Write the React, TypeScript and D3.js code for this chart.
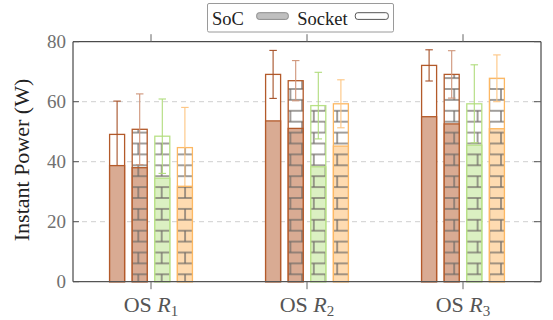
import React from "react";
import * as d3 from "d3";

// ---- data ----
const categories = ["1", "2", "3"]; // OS R_i
const seriesKeys = ["s1", "s2", "s3", "s4"];

const socket1 = [49.1, 69.1, 72.1];
const soc1 = [38.7, 53.6, 55.0];
const err1 = [11.1, 8.0, 5.2];

const socket2 = [50.8, 67.0, 69.1];
const soc2 = [38.0, 51.1, 52.6];
const err2 = [11.8, 6.7, 7.9];

const socket3 = [48.5, 58.7, 59.3];
const soc3 = [34.5, 38.3, 45.5];
const err3 = [12.4, 11.1, 13.0];

const socket4 = [44.7, 59.3, 67.8];
const soc4 = [31.8, 45.2, 51.0];
const err4 = [13.4, 8.0, 7.8];

const yTicks = [0, 20, 40, 60, 80];
const legendLabels = ["SoC", "Socket"];

// ---- styles ----
const seriesStyle = [
  { stroke: "#b35a2a", fill: "#d9ab93", err: "#a65128", pattern: false },
  { stroke: "#b35a2a", fill: "#d9ab93", err: "#cf9579", pattern: true },
  { stroke: "#b8e186", fill: "#dbf0c2", err: "#b0dc7c", pattern: true },
  { stroke: "#fdb863", fill: "#fedbb1", err: "#fdc582", pattern: true },
];

const W = 553;
const H = 320;
const left = 73;
const right = 541;
const top = 41.7;
const bottom = 281.7;
const tf = { fontFamily: "Liberation Serif" };

export default function App() {
  const series = [
    { socket: socket1, soc: soc1, err: err1 },
    { socket: socket2, soc: soc2, err: err2 },
    { socket: socket3, soc: soc3, err: err3 },
    { socket: socket4, soc: soc4, err: err4 },
  ];
  const x0 = d3.scaleBand<string>().domain(categories).range([left, right]).padding(0);
  const x1 = d3.scaleBand<string>().domain(seriesKeys).range([-45.2, 45.2]).padding(0);
  const y = d3.scaleLinear().domain([0, 80]).range([bottom, top]);
  const barW = 15;
  const capW = 7.5;

  const rowH = 10.9;
  const tileW = 23.4;

  return (
    <svg
      width={W}
      height={H}
      style={{ position: "absolute", left: 0, top: 0, background: "#fff" }}
    >
      <defs>
        <pattern
          id="bricks"
          patternUnits="userSpaceOnUse"
          width={tileW}
          height={rowH * 2}
          patternTransform={`translate(9.6, 1.8)`}
        >
          <g stroke="#6f6a66" strokeWidth={1.3} fill="none">
            <line x1={0} y1={0} x2={tileW} y2={0} />
            <line x1={0} y1={rowH} x2={tileW} y2={rowH} />
            <line x1={0} y1={rowH * 2} x2={tileW} y2={rowH * 2} />
            <line x1={0} y1={0} x2={0} y2={rowH} />
            <line x1={tileW} y1={0} x2={tileW} y2={rowH} />
            <line x1={tileW / 2} y1={rowH} x2={tileW / 2} y2={rowH * 2} />
          </g>
        </pattern>
      </defs>

      {/* grid */}
      {yTicks
        .filter((t) => t > 0 && t < 80)
        .map((t) => (
          <line
            key={"g" + t}
            x1={left}
            x2={right}
            y1={y(t)}
            y2={y(t)}
            stroke="#cfcfcf"
            strokeWidth={1}
            strokeDasharray="5,4"
          />
        ))}

      {/* bars */}
      {categories.map((c, ci) => {
        const gx = (x0(c) as number) + x0.bandwidth() / 2;
        return (
          <g key={"grp" + c}>
            {series.map((s, si) => {
              const st = seriesStyle[si];
              const cx = gx + (x1(seriesKeys[si]) as number) + x1.bandwidth() / 2;
              const xl = cx - barW / 2;
              const sockTop = y(s.socket[ci]);
              const socTop = y(s.soc[ci]);
              const eHi = y(s.socket[ci] + s.err[ci]);
              const eLo = y(s.socket[ci] - s.err[ci]);
              return (
                <g key={"b" + si}>
                  <rect x={xl} y={sockTop} width={barW} height={bottom - sockTop} fill="#fff" />
                  {st.pattern && (
                    <rect x={xl} y={sockTop} width={barW} height={bottom - sockTop} fill="url(#bricks)" />
                  )}
                  <rect
                    x={xl}
                    y={sockTop}
                    width={barW}
                    height={bottom - sockTop}
                    fill="none"
                    stroke={st.stroke}
                    strokeWidth={1.3}
                  />
                  <g stroke={st.err} strokeWidth={1.1}>
                    <line x1={cx} x2={cx} y1={eHi} y2={eLo} />
                    <line x1={cx - capW / 2} x2={cx + capW / 2} y1={eHi} y2={eHi} />
                    <line x1={cx - capW / 2} x2={cx + capW / 2} y1={eLo} y2={eLo} />
                  </g>
                  <rect x={xl} y={socTop} width={barW} height={bottom - socTop} fill={st.fill} />
                  {st.pattern && (
                    <rect x={xl} y={socTop} width={barW} height={bottom - socTop} fill="url(#bricks)" />
                  )}
                  <rect
                    x={xl}
                    y={socTop}
                    width={barW}
                    height={bottom - socTop}
                    fill="none"
                    stroke={st.stroke}
                    strokeWidth={1.3}
                  />
                </g>
              );
            })}
          </g>
        );
      })}

      {/* axes box */}
      <line x1={left} x2={right} y1={top} y2={top} stroke="#222" strokeWidth={1} />
      <line x1={right} x2={right} y1={top} y2={bottom} stroke="#222" strokeWidth={1} />
      <line x1={left} x2={left} y1={top} y2={bottom} stroke="#222" strokeWidth={1} />
      <line x1={left} x2={right} y1={bottom} y2={bottom} stroke="#555" strokeWidth={1.3} />

      {/* y ticks */}
      {yTicks.map((t) => (
        <g key={"yt" + t}>
          <line x1={left} x2={left + 6} y1={y(t)} y2={y(t)} stroke="#555" />
          <line x1={right - 7} x2={right} y1={y(t)} y2={y(t)} stroke="#555" />
          <text
            x={66}
            y={y(t)}
            dy="0.33em"
            textAnchor="end"
            fontSize={19}
            fill="#707070"
            style={tf}
          >
            {t}
          </text>
        </g>
      ))}

      {/* x ticks and labels */}
      {categories.map((c) => {
        const gx = (x0(c) as number) + x0.bandwidth() / 2;
        return (
          <g key={"xt" + c}>
            <line x1={gx} x2={gx} y1={bottom} y2={bottom + 7.5} stroke="#666" />
            <line x1={gx} x2={gx} y1={top} y2={top - 7.5} stroke="#666" />
            <text x={gx} y={312} textAnchor="middle" fontSize={22} fill="#555" style={tf}>
              <tspan>OS </tspan>
              <tspan fontStyle="italic">R</tspan>
              <tspan fontSize={15} dy={4}>
                {c}
              </tspan>
            </text>
          </g>
        );
      })}

      {/* y label */}
      <text
        transform="translate(28.5,160) rotate(-90)"
        textAnchor="middle"
        fontSize={22}
        fill="#222"
        style={tf}
      >
        Instant Power (W)
      </text>

      {/* legend */}
      <rect x={207.5} y={3.5} width={186} height={28.5} rx={1.5} fill="#fff" stroke="#9a9a9a" />
      <text x={212} y={25} fontSize={18.5} fill="#222" style={tf}>
        {legendLabels[0]}
      </text>
      <rect x={256.7} y={12.7} width={31.6} height={6.7} rx={2.5} fill="#bfbfbf" stroke="#8c8c8c" />
      <text x={297.3} y={25} fontSize={18.5} fill="#222" style={tf}>
        {legendLabels[1]}
      </text>
      <rect x={355.3} y={12.7} width={33} height={6.7} rx={2.5} fill="#fff" stroke="#555" />
    </svg>
  );
}
